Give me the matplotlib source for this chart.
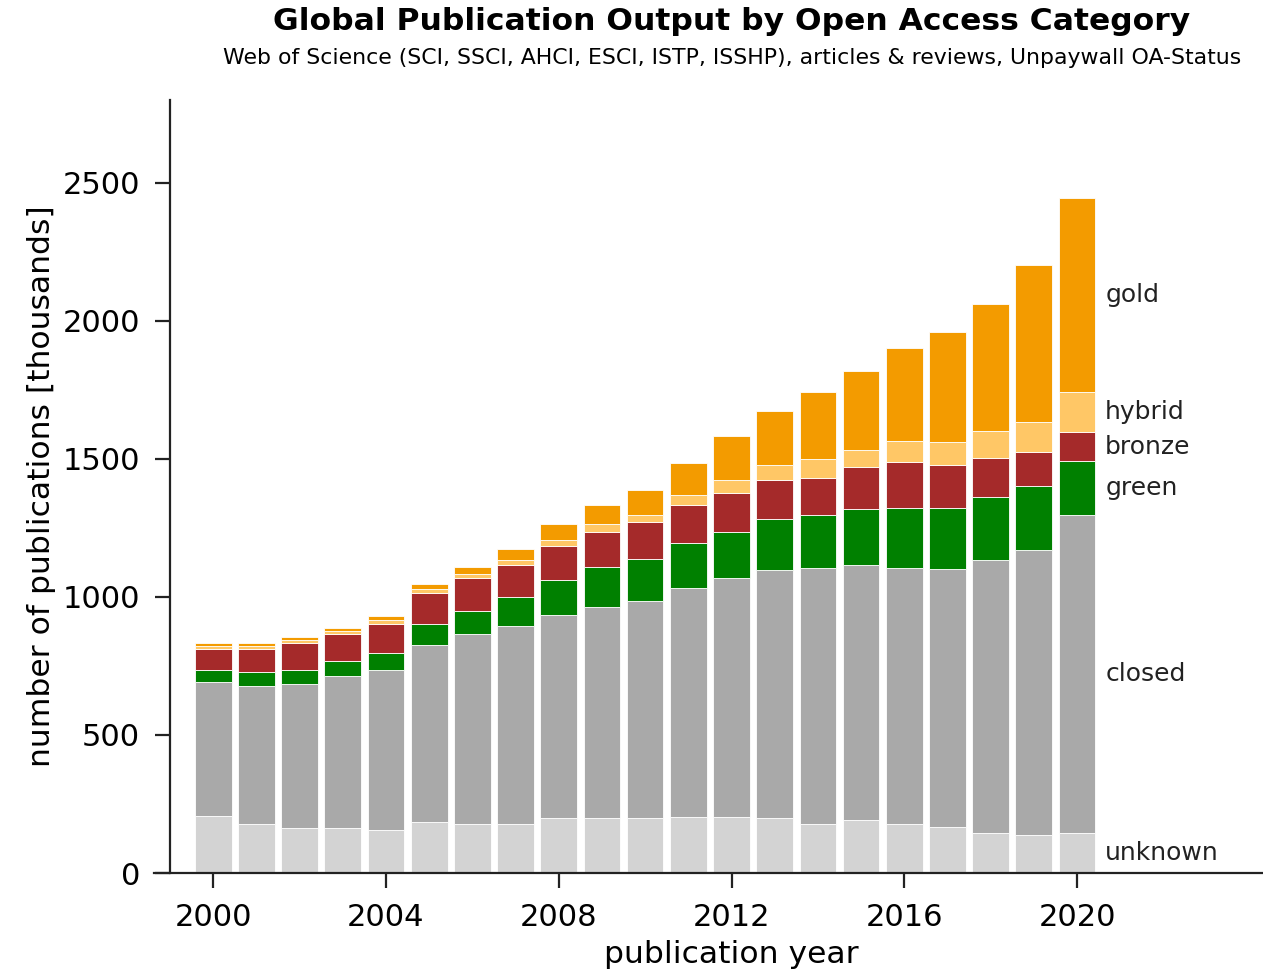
import numpy as np
import matplotlib
matplotlib.use("Agg")
import matplotlib.pyplot as plt

# publications per year in thousands
years = np.arange(2000, 2021)
unknown = [207, 178, 164, 164, 156, 184, 178, 178, 198, 198, 198, 204, 204, 198, 178, 192, 178, 166, 144, 136, 144]
closed = [485, 500, 522, 550, 579, 641, 689, 718, 738, 766, 788, 829, 864, 898, 925, 924, 927, 934, 989, 1033, 1152]
green = [42, 50, 48, 55, 63, 78, 83, 104, 126, 146, 152, 161, 168, 187, 193, 203, 216, 223, 230, 231, 195]
bronze = [79, 85, 99, 98, 104, 110, 119, 116, 124, 125, 132, 139, 139, 140, 134, 152, 167, 156, 142, 126, 105]
hybrid = [11, 11, 10, 8, 13, 14, 15, 16, 22, 28, 26, 35, 48, 56, 69, 63, 78, 81, 96, 109, 145]
gold = [10, 10, 11, 12, 15, 21, 26, 40, 56, 70, 92, 118, 161, 195, 244, 284, 335, 398, 461, 567, 705]

categories = ["unknown", "closed", "green", "bronze", "hybrid", "gold"]
series = [unknown, closed, green, bronze, hybrid, gold]
colors = ["#d3d3d3", "#a9a9a9", "#008000", "#a52a2a", "#ffc766", "#f39b00"]

fig = plt.figure(figsize=(6.315, 4.86), dpi=200)
# axes runs past the right edge (the original was cropped)
ax = fig.add_axes([154 / 1263, 99 / 972, 1155 / 1263, 773 / 972])

bottom = np.zeros(len(years))
for name, vals, col in zip(categories, series, colors):
    vals = np.array(vals, dtype=float)
    ax.bar(years, vals, bottom=bottom, width=0.85, color=col,
           edgecolor="white", linewidth=0.3)
    # label next to the last bar, at the middle of its segment
    ax.text(years[-1] + 0.65, bottom[-1] + vals[-1] / 2, name,
            va="center", ha="left", fontsize=9, color="#222222")
    bottom += vals

ax.set_xlim(1998.63, 2025.37)
ax.set_ylim(0, 2800)
ax.set_xticks(np.arange(2000, 2021, 4))
ax.set_yticks(np.arange(0, 2501, 500))
ax.spines["top"].set_visible(False)
ax.spines["right"].set_visible(False)
ax.spines["left"].set_position(("data", 1999))
for s in ["left", "bottom"]:
    ax.spines[s].set_linewidth(0.8)
    ax.spines[s].set_color("#222222")
ax.tick_params(labelsize=11, length=5.5, width=0.8, pad=5.3, color="#222222")
ax.set_xlabel("publication year", fontsize=11.3, labelpad=3)
ax.set_ylabel("number of publications [thousands]", fontsize=11.3, labelpad=2.5)

fig.text(732 / 1263, 1 - 22 / 972, "Global Publication Output by Open Access Category",
         ha="center", va="center", fontsize=11.3, fontweight="bold")
fig.text(732 / 1263, 1 - 58 / 972,
         "Web of Science (SCI, SSCI, AHCI, ESCI, ISTP, ISSHP), articles & reviews, Unpaywall OA-Status",
         ha="center", va="center", fontsize=7.95)

fig.savefig("out.png", dpi=200)
